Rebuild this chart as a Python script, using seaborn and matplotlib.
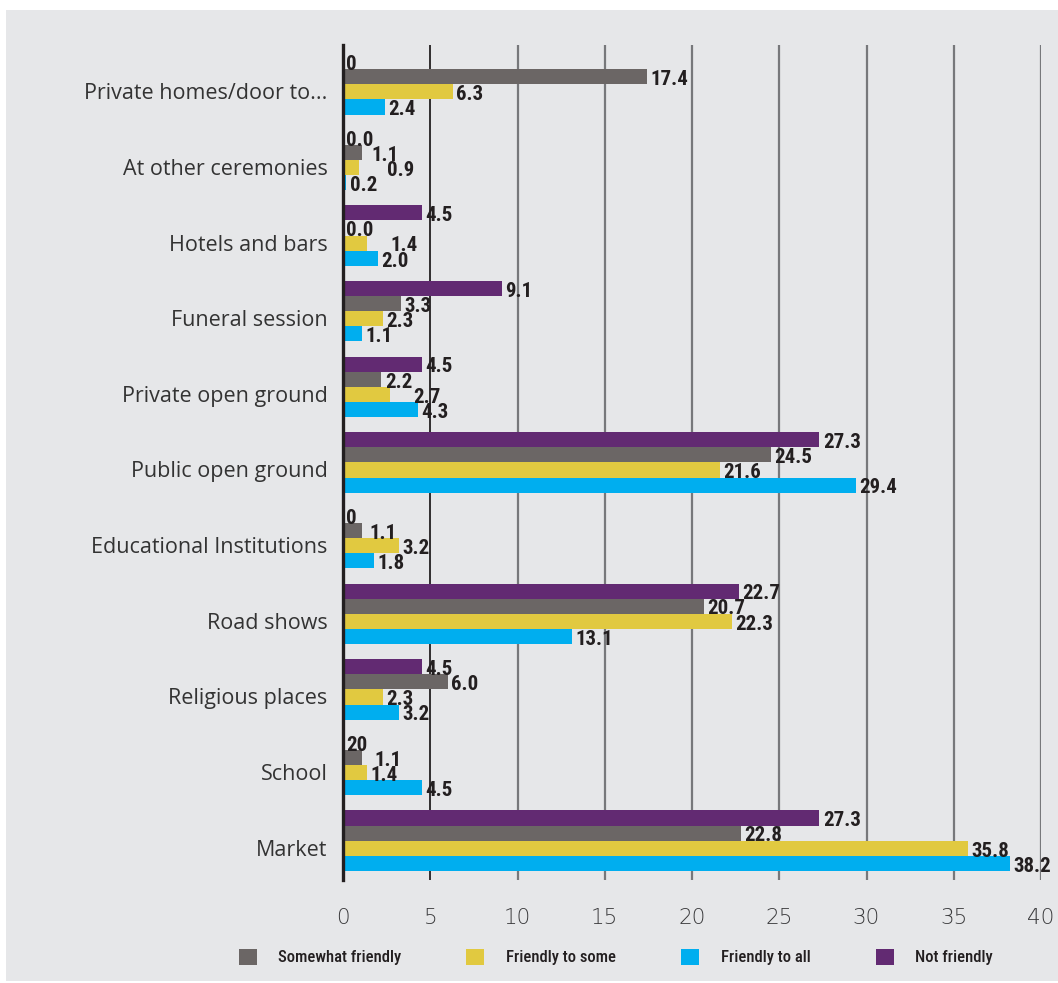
import matplotlib
matplotlib.use("Agg")
import matplotlib.pyplot as plt
from matplotlib import font_manager
from matplotlib.patches import Patch, Rectangle
from matplotlib.transforms import ScaledTranslation
import seaborn as sns
import pandas as pd

# ---- data ---------------------------------------------------------------
places = [
    "Private homes/door to...",
    "At other ceremonies",
    "Hotels and bars",
    "Funeral session",
    "Private open ground",
    "Public open ground",
    "Educational Institutions",
    "Road shows",
    "Religious places",
    "School",
    "Market",
]
series = ["Not friendly", "Somewhat friendly", "Friendly to some", "Friendly to all"]

not_friendly      = [0, 0.0, 4.5, 9.1, 4.5, 27.3, 0, 22.7, 4.5, 0, 27.3]
somewhat_friendly = [17.4, 1.1, 0.0, 3.3, 2.2, 24.5, 1.1, 20.7, 6.0, 1.1, 22.8]
friendly_to_some  = [6.3, 0.9, 1.4, 2.3, 2.7, 21.6, 3.2, 22.3, 2.3, 1.4, 35.8]
friendly_to_all   = [2.4, 0.2, 2.0, 1.1, 4.3, 29.4, 1.8, 13.1, 3.2, 4.5, 38.2]

# printed value labels (as published)
not_friendly_labels      = ["0", "0.0", "4.5", "9.1", "4.5", "27.3", "0", "22.7", "4.5", "20", "27.3"]
somewhat_friendly_labels = ["17.4", "1.1", "0.0", "3.3", "2.2", "24.5", "1.1", "20.7", "6.0", "1.1", "22.8"]
friendly_to_some_labels  = ["6.3", "0.9", "1.4", "2.3", "2.7", "21.6", "3.2", "22.3", "2.3", "1.4", "35.8"]
friendly_to_all_labels   = ["2.4", "0.2", "2.0", "1.1", "4.3", "29.4", "1.8", "13.1", "3.2", "4.5", "38.2"]

x_ticks = [0, 5, 10, 15, 20, 25, 30, 35, 40]
legend_order = ["Somewhat friendly", "Friendly to some", "Friendly to all", "Not friendly"]

colors = {
    "Not friendly": "#622a72",
    "Somewhat friendly": "#6b6665",
    "Friendly to some": "#e1c940",
    "Friendly to all": "#00aeef",
}

# extra horizontal room (in points) for crowded labels: (series, place) -> pad
label_nudge = {
    ("Friendly to some", "At other ceremonies"): 18,
    ("Somewhat friendly", "At other ceremonies"): 4,
    ("Friendly to some", "Hotels and bars"): 14,
    ("Friendly to some", "Private open ground"): 14,
    ("Somewhat friendly", "School"): 6,
    ("Somewhat friendly", "Educational Institutions"): 3,
}

# ---- fonts --------------------------------------------------------------
available = {f.name for f in font_manager.fontManager.ttflist}


def pick(*names):
    for n in names:
        if n in available:
            return n
    return "DejaVu Sans"


narrow = pick("Roboto Condensed", "Liberation Sans Narrow", "Open Sans Condensed", "DejaVu Sans")
label_font = pick("Open Sans", "Noto Sans", "DejaVu Sans")

# ---- frame --------------------------------------------------------------
df = pd.DataFrame({
    "place": places * 4,
    "value": not_friendly + somewhat_friendly + friendly_to_some + friendly_to_all,
    "series": sum([[s] * len(places) for s in series], []),
})
labels_by_series = [not_friendly_labels, somewhat_friendly_labels,
                    friendly_to_some_labels, friendly_to_all_labels]

# ---- figure -------------------------------------------------------------
sns.set_theme(style="white")
bg = "#e6e7e9"
fig = plt.figure(figsize=(10.58, 9.83), dpi=100, facecolor="white")
fig.patches.append(Rectangle((6 / 1058, 0.002), 1, 1 - 10 / 983 - 0.002,
                             transform=fig.transFigure, facecolor=bg,
                             edgecolor="none", zorder=-10))
ax = fig.add_axes([343 / 1058, 1 - 880 / 983, 698 / 1058, 835 / 983])
ax.set_facecolor(bg)

sns.barplot(data=df, y="place", x="value", hue="series", order=places,
            hue_order=series, palette=colors, orient="h", width=0.8,
            saturation=1, legend=False, ax=ax)
for cont in ax.containers:
    for b in cont:
        b.set_edgecolor("none")

for s, cont, labs in zip(series, ax.containers, labels_by_series):
    txts = ax.bar_label(cont, labels=labs, padding=2.5, fontsize=15,
                        family=narrow, fontweight="bold", color="#231f20")
    for place, t in zip(places, txts):
        t.set_va("center")
        t.xyann = (t.xyann[0] + label_nudge.get((s, place), 0), -2)

ax.set_xlim(0, 40)
ax.set_ylim(10.52, -0.52)
ax.set_xticks(x_ticks)
ax.set_xlabel("")
ax.set_ylabel("")
ax.set_axisbelow(True)
ax.xaxis.grid(True, color="#77787b", linewidth=1.6)
ax.get_xgridlines()[1].set_color("#231f20")
ax.get_xgridlines()[1].set_linewidth(1.3)

for side in ["top", "right", "bottom"]:
    ax.spines[side].set_visible(False)
ax.spines["left"].set_color("#231f20")
ax.spines["left"].set_linewidth(2.4)

ax.tick_params(axis="x", length=0, pad=20, labelsize=15.5, labelcolor="#3a3a3c")
ax.tick_params(axis="y", length=0, pad=11, labelsize=15.5, labelcolor="#333333")
shift_down = ScaledTranslation(0, -5 / 72, fig.dpi_scale_trans)
for t in ax.get_yticklabels():
    t.set_family(label_font)
    t.set_transform(t.get_transform() + shift_down)
for t in ax.get_xticklabels():
    t.set_family("DejaVu Sans")
    t.set_fontweight("light")

handles = [Patch(facecolor=colors[s], edgecolor="none") for s in legend_order]
leg = fig.legend(handles, legend_order, loc="center", bbox_to_anchor=(0.582, 1 - 957 / 983),
                 ncol=4, frameon=False, handlelength=1.08, handleheight=1.08,
                 handletextpad=1.3, columnspacing=3.9,
                 prop={"family": narrow, "size": 12, "weight": "medium"})
for t in leg.get_texts():
    t.set_color("#231f20")

fig.savefig("out.png", dpi=100, facecolor="white")
